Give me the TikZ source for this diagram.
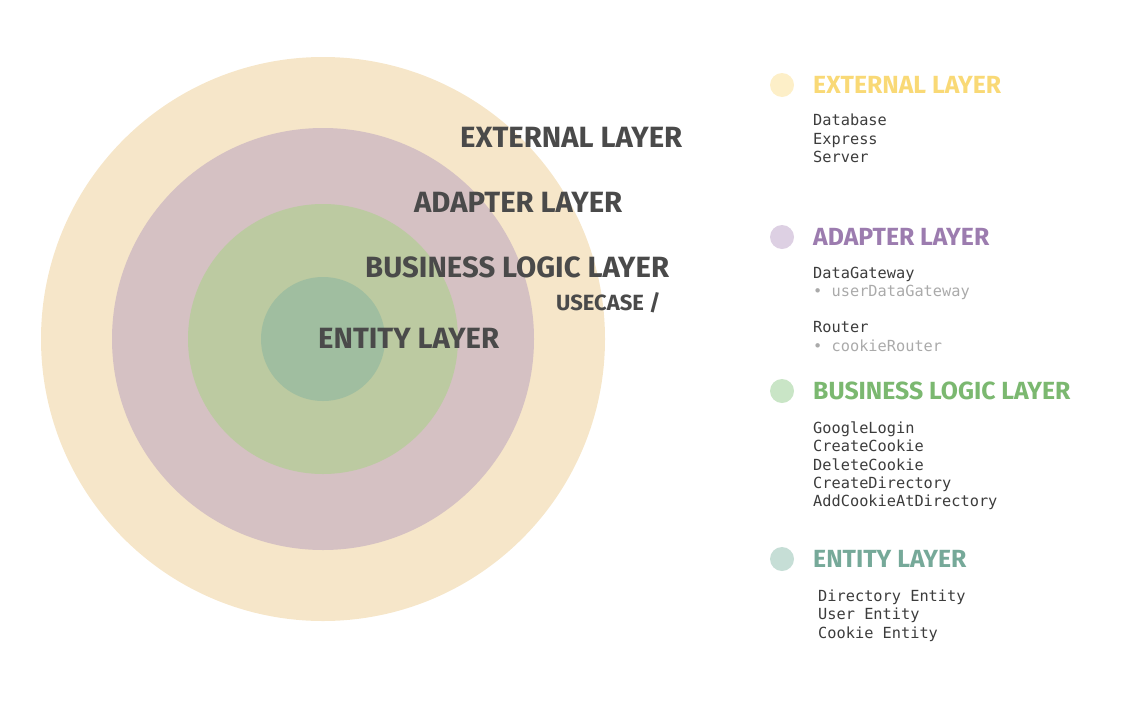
\documentclass[tikz,border=0pt]{standalone}
\usepackage{fontspec}
\setmainfont{Fira Sans}
\newfontfamily\headfont{Fira Sans Bold}
\newfontfamily\codefont{DejaVu Sans Mono}
\definecolor{cOuter}{HTML}{F6E6C9}
\definecolor{cAdapter}{HTML}{D5C1C3}
\definecolor{cBusiness}{HTML}{BCCAA1}
\definecolor{cEntity}{HTML}{A0BEA0}
\definecolor{cText}{HTML}{4A4A4A}
\definecolor{hExt}{HTML}{F9D976}
\definecolor{dExt}{HTML}{FDEFC8}
\definecolor{hAd}{HTML}{9C7CAF}
\definecolor{dAd}{HTML}{DDD0E3}
\definecolor{hBu}{HTML}{7BB870}
\definecolor{dBu}{HTML}{C9E5C6}
\definecolor{hEn}{HTML}{76A999}
\definecolor{dEn}{HTML}{C6DED6}
\definecolor{cCode}{HTML}{3C3C3C}
\definecolor{cSub}{HTML}{AAAAAA}
\tikzset{
  ring/.style={circle, inner sep=0pt, draw=none},
  biglabel/.style={anchor=west, inner sep=0pt, text=cText, font=\headfont\fontsize{29.3}{32}\selectfont},
  smalllabel/.style={anchor=west, inner sep=0pt, text=cText, font=\headfont\fontsize{22}{25}\selectfont},
  legdot/.style={circle, inner sep=0pt, minimum size=24pt},
  leghead/.style={anchor=west, inner sep=0pt, font=\headfont\fontsize{24.8}{28}\selectfont},
  code/.style={anchor=base west, inner sep=0pt, text=cCode, font=\codefont\fontsize{15.3}{18}\selectfont},
  subcode/.style={code, text=cSub}
}
\begin{document}
\begin{tikzpicture}[x=1pt,y=-1pt]
\useasboundingbox (0,0) rectangle (1148,718);
\node[ring, fill=cOuter, minimum size=564pt] (outer) at (323,339) {};
\node[ring, fill=cAdapter, minimum size=422pt] (adapter) at (323,339) {};
\node[ring, fill=cBusiness, minimum size=270pt] (business) at (323,339) {};
\node[ring, fill=cEntity, minimum size=124pt] (entity) at (323,339) {};

\node[biglabel] (lext) at (460,137) {EXTERNAL LAYER};
\node[biglabel] (lad) at (414,202) {ADAPTER LAYER};
\node[biglabel] (lbu) at (365,267) {BUSINESS LOGIC LAYER};
\node[smalllabel] (luse) at (556,303) {USECASE /};
\node[biglabel] (len) at (318,338) {ENTITY LAYER};

% legend
\node[legdot, fill=dExt] (dotext) at (782,85) {};
\node[leghead, text=hExt] (hext) at (813,85) {EXTERNAL LAYER};
\node[code] (c1) at (813,125.5) {Database};
\node[code] (c2) at (813,144.5) {Express};
\node[code] (c3) at (813,162.5) {Server};

\node[legdot, fill=dAd] (dotad) at (782,237) {};
\node[leghead, text=hAd] (had) at (813,237) {ADAPTER LAYER};
\node[code] (c4) at (813,278.5) {DataGateway};
\node[subcode] (c5) at (813,296.5) {• userDataGateway};
\node[code] (c6) at (813,332.5) {Router};
\node[subcode] (c7) at (813,351.5) {• cookieRouter};

\node[legdot, fill=dBu] (dotbu) at (782,391) {};
\node[leghead, text=hBu] (hbu) at (813,391) {BUSINESS LOGIC LAYER};
\node[code] (c8) at (813,433.5) {GoogleLogin};
\node[code] (c9) at (813,451.5) {CreateCookie};
\node[code] (c10) at (813,470.5) {DeleteCookie};
\node[code] (c11) at (813,488.5) {CreateDirectory};
\node[code] (c12) at (813,506.5) {AddCookieAtDirectory};

\node[legdot, fill=dEn] (doten) at (782,559) {};
\node[leghead, text=hEn] (hen) at (813,559) {ENTITY LAYER};
\node[code] (c13) at (818,601.5) {Directory Entity};
\node[code] (c14) at (818,619.5) {User Entity};
\node[code] (c15) at (818,638.5) {Cookie Entity};
\end{tikzpicture}
\end{document}
